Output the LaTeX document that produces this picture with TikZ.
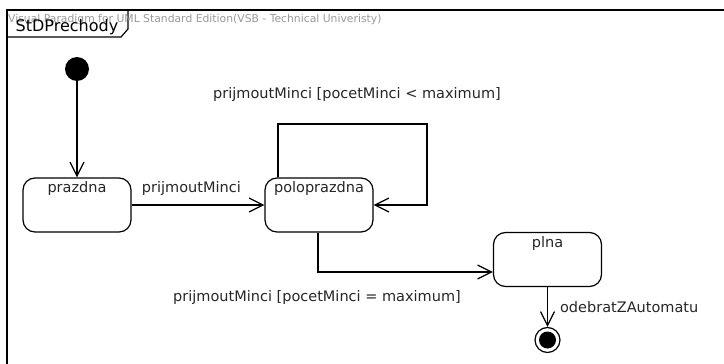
\documentclass[tikz,border=0pt]{standalone}
\usepackage{fontspec}
\setmainfont{DejaVu Sans}
\usetikzlibrary{arrows.meta}
\begin{document}
\begin{tikzpicture}[x=1pt, y=-1pt,
    state/.style={draw, line width=1.2pt, rounded corners=12pt, minimum width=108pt,
        minimum height=54pt, inner sep=0pt},
    trans/.style={draw, line width=1.2pt, -{Straight Barb[length=14pt, width=14pt, line width=1.2pt]}},
    lbl/.style={font=\fontsize{14.5}{16}\selectfont, text=black!85, inner sep=1pt}]
        \useasboundingbox (0,0) rectangle (724,364);
        % diagram frame with name tab
        \draw[line width=1.8pt] (730,10) -- (7,10) -- (7,370);
        \draw[line width=1.2pt] (7,37) -- (121,37) -- (128,29) -- (128,10);
        \node[font=\fontsize{10.8}{12}\selectfont, text=black!40, anchor=west, inner sep=0pt] (wm) at (8,20)
            {Visual Paradigm for UML Standard Edition(VSB - Technical Univeristy)};
        \node[font=\fontsize{16}{18}\selectfont, inner sep=0pt] (name) at (67,27) {StDPrechody};
        % states
        \node[circle, fill=black, minimum size=24pt, inner sep=0pt] (start) at (77,69) {};
        \node[state, label={[lbl, anchor=north, yshift=-3pt]north:prazdna}] (prazdna) at (77,205) {};
        \node[state, label={[lbl, anchor=north, yshift=-3pt]north:poloprazdna}] (poloprazdna) at (319,205) {};
        \node[state, label={[lbl, anchor=north, yshift=-3pt]north:plna}] (plna) at (547.5,259.5) {};
        \node[circle, draw, line width=1.2pt, minimum size=25pt, inner sep=0pt,
            path picture={\fill (path picture bounding box.center) circle (8.5pt);}] (end) at (547.5,340) {};
        \coordinate (loop) at (427,124);
        % transitions
        \draw[trans] (start) -- (prazdna);
        \draw[trans] (prazdna) -- node[lbl, above=8pt, pos=0.45] (t1) {prijmoutMinci} (poloprazdna);
        \draw[trans] ([xshift=-41pt]poloprazdna.north) |- (loop) |- (poloprazdna.east);
        \node[lbl] (t2) at (357,94) {prijmoutMinci [pocetMinci < maximum]};
        \draw[trans] ([xshift=-1pt]poloprazdna.south) |- ([yshift=-12.5pt]plna.west);
        \node[lbl] (t3) at (317,297) {prijmoutMinci [pocetMinci = maximum]};
        \draw[trans] (plna) -- node[lbl, right=11pt] (t4) {odebratZAutomatu} (end);
    \end{tikzpicture}
\end{document}
